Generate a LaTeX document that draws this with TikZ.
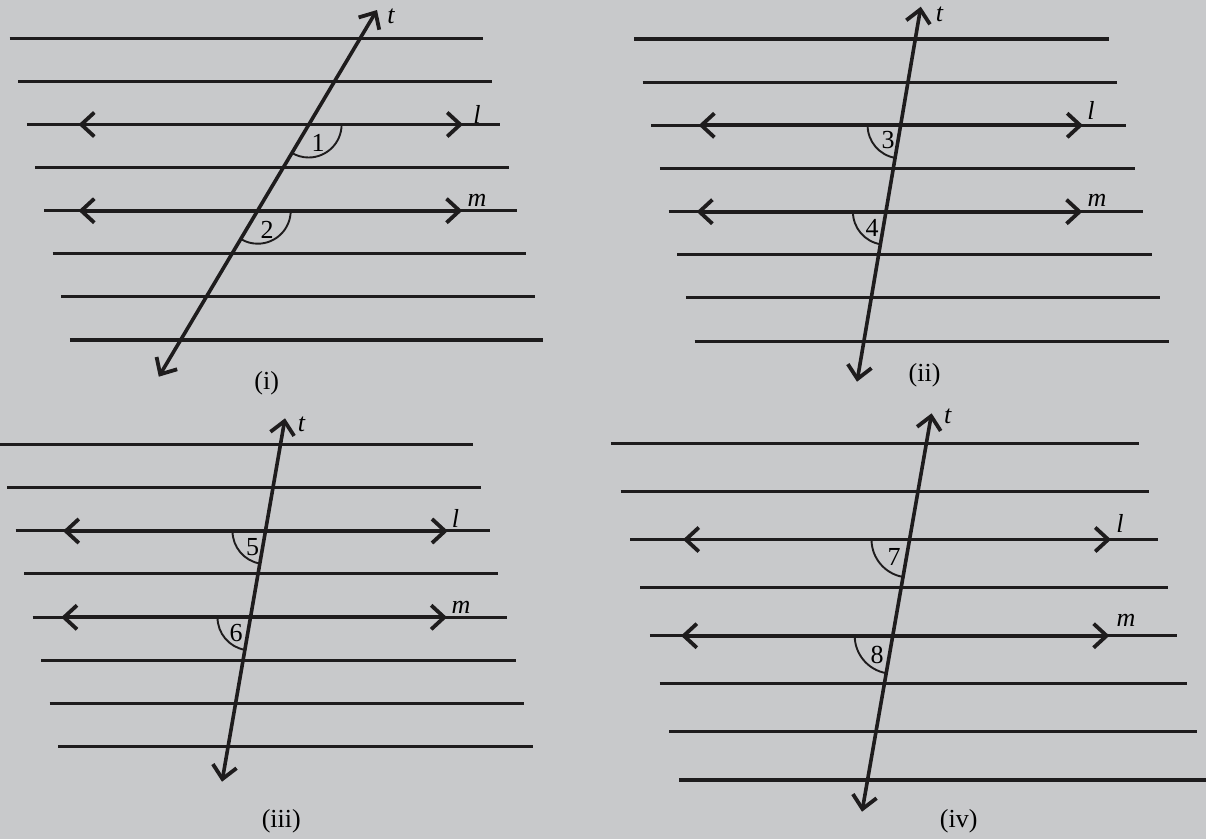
\documentclass[tikz,border=0pt]{standalone}
\usepackage{fontspec}
\setmainfont{Liberation Serif}
\usetikzlibrary{arrows.meta}
\definecolor{bg}{RGB}{200,201,203}
\definecolor{ink}{RGB}{30,28,29}
\begin{document}
\begin{tikzpicture}[x=1pt,y=-1pt,line cap=butt,
  hline/.style={draw=ink,line width=3.1pt},
  barb/.tip={Straight Barb[length=13pt,width=24pt,line width=3.8pt]},
  rayline/.style={draw=ink,line width=3.8pt,barb-barb},
  tline/.style={draw=ink,line width=3.6pt,barb-barb},
  angarc/.style={draw=ink,line width=1.9pt},
  num/.style={inner sep=0pt,font=\fontsize{26}{26}\selectfont},
  var/.style={inner sep=0pt,font=\fontsize{26}{26}\selectfont\itshape},
  panelcap/.style={inner sep=0pt,font=\fontsize{26}{26}\selectfont}]
\fill[bg] (0,0) rectangle (1206,839);
\useasboundingbox (0,0) rectangle (1206,839);

% ---------------- panel (i)
\foreach \k in {0,...,7}{
  \draw[hline] ({9.6+8.6*\k},{38.3+43.1*\k}) -- ({483+8.6*\k},{38.3+43.1*\k});
}
\coordinate (lAi) at (78.5,124.5);  \coordinate (lBi) at (463,124.5);
\coordinate (mAi) at (78.5,210.7);  \coordinate (mBi) at (462.3,210.7);
\draw[rayline] (lAi) -- (lBi);
\draw[rayline] (mAi) -- (mBi);
\coordinate (tTi) at (377,10); \coordinate (tBi) at (158.8,376.7);
\draw[tline] (tBi) -- (tTi);
\coordinate (P1) at (308.6,124.5); \coordinate (P2) at (257.7,210.7);
\draw[angarc] (P1) ++(0:33) arc[start angle=0,end angle=120.7,radius=33];
\draw[angarc] (P2) ++(0:33) arc[start angle=0,end angle=120.7,radius=33];
\node[var] (ti) at (391,16) {t};
\node[var] (li) at (477,114) {l};
\node[var] (mi) at (477,200) {m};
\node[num] (n1) at (318,143) {1};
\node[num] (n2) at (267,230) {2};
\node[panelcap] (ci) at (266.7,383.3) {(i)};

% ---------------- panel (ii)
\foreach \k in {0,...,7}{
  \draw[hline] ({634+8.66*\k},{39+43.15*\k}) -- ({1108.6+8.63*\k},{39+43.15*\k});
}
\coordinate (lAii) at (698.6,125.3); \coordinate (lBii) at (1083,125.3);
\coordinate (mAii) at (696.6,211.7); \coordinate (mBii) at (1082.3,211.7);
\draw[rayline] (lAii) -- (lBii);
\draw[rayline] (mAii) -- (mBii);
\coordinate (tTii) at (920.8,6.7); \coordinate (tBii) at (857,381.7);
\draw[tline] (tBii) -- (tTii);
\coordinate (P3) at (900.6,125.3); \coordinate (P4) at (885.9,211.7);
\draw[angarc] (P3) ++(99.65:33) arc[start angle=99.65,end angle=180,radius=33];
\draw[angarc] (P4) ++(99.65:33) arc[start angle=99.65,end angle=180,radius=33];
\node[var] (tii) at (939.4,14) {t};
\node[var] (lii) at (1091,110) {l};
\node[var] (mii) at (1097,200) {m};
\node[num] (n3) at (888,140) {3};
\node[num] (n4) at (872,228) {4};
\node[panelcap] (cii) at (924.6,375) {(ii)};

% ---------------- panel (iii)
\foreach \k in {0,...,7}{
  \draw[hline] ({-1.5+8.5*\k},{444.3+43.2*\k}) -- ({472.6+8.6*\k},{444.3+43.2*\k});
}
\coordinate (lAiii) at (63,531); \coordinate (lBiii) at (447.8,531);
\coordinate (mAiii) at (61.2,617.3); \coordinate (mBiii) at (447,617.3);
\draw[rayline] (lAiii) -- (lBiii);
\draw[rayline] (mAiii) -- (mBiii);
\coordinate (tTiii) at (285,418.3); \coordinate (tBiii) at (222,781.7);
\draw[tline] (tBiii) -- (tTiii);
\coordinate (P5) at (265.5,531); \coordinate (P6) at (250.5,617.3);
\draw[angarc] (P5) ++(99.83:33) arc[start angle=99.83,end angle=180,radius=33];
\draw[angarc] (P6) ++(99.83:33) arc[start angle=99.83,end angle=180,radius=33];
\node[var] (tiii) at (301.6,424) {t};
\node[var] (liii) at (455.4,518) {l};
\node[var] (miii) at (461,607) {m};
\node[num] (n5) at (252.6,547) {5};
\node[num] (n6) at (236,633.3) {6};
\node[panelcap] (ciii) at (281.3,821.7) {(iii)};

% ---------------- panel (iv)
\foreach \k in {0,...,7}{
  \draw[hline] ({610.8+9.77*\k},{443.3+48.1*\k}) -- ({1139+9.6*\k},{443.3+48.1*\k});
}
\coordinate (lAiv) at (683,539.5); \coordinate (lBiv) at (1111,539.5);
\coordinate (mAiv) at (681,635.7); \coordinate (mBiv) at (1109.4,635.7);
\draw[rayline] (lAiv) -- (lBiv);
\draw[rayline] (mAiv) -- (mBiv);
\coordinate (tTiv) at (931.6,413.3); \coordinate (tBiv) at (862,811.7);
\draw[tline] (tBiv) -- (tTiv);
\coordinate (P7) at (909.5,539.5); \coordinate (P8) at (892.7,635.7);
\draw[angarc] (P7) ++(99.9:38) arc[start angle=99.9,end angle=180,radius=38];
\draw[angarc] (P8) ++(99.9:38) arc[start angle=99.9,end angle=180,radius=38];
\node[var] (tiv) at (947.8,416) {t};
\node[var] (liv) at (1120,523) {l};
\node[var] (miv) at (1126,620) {m};
\node[num] (n7) at (894,557) {7};
\node[num] (n8) at (877,655) {8};
\node[panelcap] (civ) at (958.7,821.7) {(iv)};
\end{tikzpicture}
\end{document}
